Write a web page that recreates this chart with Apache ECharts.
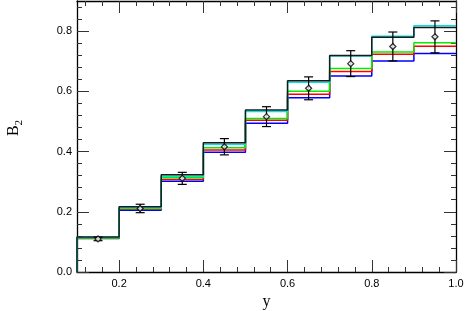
<!DOCTYPE html>
<html><head><meta charset="utf-8">
<script src="https://cdn.jsdelivr.net/npm/echarts@6/dist/echarts.min.js"></script>
<style>html,body{margin:0;padding:0;background:#fff}#c{width:465px;height:311px}</style>
</head><body><div id="c"></div>
<script>
// bin edges and per-bin values
const edges = [0.1, 0.2, 0.3, 0.4, 0.5, 0.6, 0.7, 0.8, 0.9, 1.0];
const blackVals = [0.116, 0.217, 0.323, 0.429, 0.538, 0.635, 0.719, 0.780, 0.812];
const cyanVals  = [0.115, 0.213, 0.318, 0.424, 0.533, 0.630, 0.717, 0.783, 0.818];
const greenVals = [0.113, 0.211, 0.313, 0.413, 0.510, 0.600, 0.676, 0.731, 0.761];
const redVals   = [0.112, 0.208, 0.307, 0.405, 0.504, 0.590, 0.666, 0.723, 0.750];
const blueVals  = [0.111, 0.205, 0.301, 0.398, 0.494, 0.579, 0.651, 0.701, 0.726];
// measured points with errors
const ptX   = [0.15, 0.25, 0.35, 0.45, 0.55, 0.65, 0.75, 0.85, 0.95];
const ptY   = [0.110, 0.211, 0.311, 0.416, 0.516, 0.610, 0.692, 0.749, 0.781];
const ptErr = [0.006, 0.014, 0.020, 0.027, 0.033, 0.038, 0.043, 0.048, 0.053];
// ticks
const xMajor = [0.2, 0.4, 0.6, 0.8, 1.0];
const xMinor = [0.12, 0.16, 0.24, 0.28, 0.32, 0.36, 0.44, 0.48, 0.52, 0.56, 0.64, 0.68, 0.72, 0.76, 0.84, 0.88, 0.92, 0.96];
const yMajor = [0.0, 0.2, 0.4, 0.6, 0.8];
const yMinor = [0.04, 0.08, 0.12, 0.16, 0.24, 0.28, 0.32, 0.36, 0.44, 0.48, 0.52, 0.56, 0.64, 0.68, 0.72, 0.76, 0.84, 0.88];

function stepData(vals) {
  const d = [[edges[0], 0]];
  for (let i = 0; i < vals.length; i++) d.push([edges[i], vals[i]]);
  d.push([edges[edges.length - 1], vals[vals.length - 1]]);
  return d;
}
function lineSeries(vals, color, z) {
  return { type: 'line', step: 'end', data: stepData(vals), symbol: 'none', z: z,
    lineStyle: { color: color, width: 1.5 }, animation: false, clip: true };
}

const labelStyle = { color: '#000', fontFamily: 'Liberation Sans', fontSize: 11 };
function xAx(pos, vals, len, showLabel, showLine) {
  return { type: 'value', min: 0.1, max: 1.0, position: pos, splitLine: { show: false },
    axisLine: { show: showLine, onZero: false, lineStyle: { color: '#000', width: 1.3 } },
    axisTick: { show: true, inside: true, length: len, customValues: vals, lineStyle: { color: '#333', width: 1 } },
    axisLabel: { show: showLabel, customValues: vals, margin: 6, formatter: v => v.toFixed(1), ...labelStyle } };
}
function yAx(pos, vals, len, showLabel, showLine) {
  return { type: 'value', min: 0, max: 0.9, position: pos, splitLine: { show: false },
    axisLine: { show: showLine, onZero: false, lineStyle: { color: '#000', width: 1.3 } },
    axisTick: { show: true, inside: true, length: len, customValues: vals, lineStyle: { color: '#333', width: 1 } },
    axisLabel: { show: showLabel, customValues: vals, margin: 5, formatter: v => v.toFixed(1), ...labelStyle } };
}

const xAxes = [xAx('bottom', xMajor, 12, true, true), xAx('bottom', xMinor, 5, false, false),
  xAx('top', xMajor, 12, false, true), xAx('top', xMinor, 5, false, false)];
xAxes[0].name = 'y';
xAxes[0].nameLocation = 'middle';
xAxes[0].nameGap = 22;
xAxes[0].nameTextStyle = { fontFamily: 'Liberation Serif', fontSize: 16, color: '#000' };

const yAxes = [yAx('left', yMajor, 12, true, true), yAx('left', yMinor, 5, false, false),
  yAx('right', yMajor, 12, false, true), yAx('right', yMinor, 5, false, false)];
yAxes[0].name = '{b|B}{s|2}';
yAxes[0].nameLocation = 'middle';
yAxes[0].nameGap = 55;
yAxes[0].nameTextStyle = { padding: [0, 0, 0, 17], rich: {
  b: { fontFamily: 'Liberation Serif', fontSize: 16, color: '#000', verticalAlign: 'bottom' },
  s: { fontFamily: 'Liberation Serif', fontSize: 11, color: '#000', verticalAlign: 'bottom', padding: [0, 0, -3, 0] } } };

const errData = ptX.map((x, i) => [x, ptY[i], ptErr[i]]);
const ptData = ptX.map((x, i) => [x, ptY[i]]);

const chart = echarts.init(document.getElementById('c'), null, { renderer: 'canvas' });
chart.setOption({
  animation: false,
  backgroundColor: '#fff',
  grid: { left: 77, right: 9, top: 1, bottom: 39, containLabel: false, outerBoundsMode: 'none' },
  xAxis: xAxes,
  yAxis: yAxes,
  series: [
    lineSeries(blueVals, '#0000ff', 2),
    lineSeries(redVals, '#ff0000', 3),
    lineSeries(greenVals, '#00ee00', 4),
    lineSeries(cyanVals, '#00e4e4', 5),
    lineSeries(blackVals, '#1a1a1a', 6),
    { type: 'custom', z: 10, data: errData, renderItem: function (params, api) {
        const x = api.value(0), y = api.value(1), e = api.value(2);
        const lo = api.coord([x, y - e]), hi = api.coord([x, y + e]);
        const st = { stroke: '#000', lineWidth: 1.2 };
        return { type: 'group', children: [
          { type: 'line', shape: { x1: lo[0], y1: lo[1], x2: hi[0], y2: hi[1] }, style: st },
          { type: 'line', shape: { x1: lo[0] - 4.5, y1: lo[1], x2: lo[0] + 4.5, y2: lo[1] }, style: st },
          { type: 'line', shape: { x1: hi[0] - 4.5, y1: hi[1], x2: hi[0] + 4.5, y2: hi[1] }, style: st }
        ] };
      } },
    { type: 'scatter', z: 11, data: ptData, symbol: 'diamond', symbolSize: 6,
      itemStyle: { color: '#fff', borderColor: '#000', borderWidth: 1.3 } }
  ]
});
</script></body></html>
